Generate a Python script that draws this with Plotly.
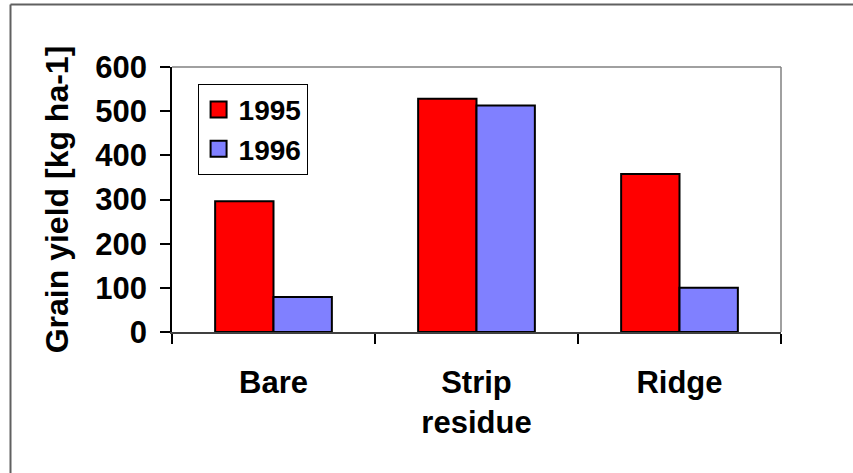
import plotly.graph_objects as go

categories = ["Bare", "Strip<br>residue", "Ridge"]
yield_1995 = [296, 528, 358]
yield_1996 = [79, 513, 100]
series_names = ["1995", "1996"]
series_colors = ["#FF0000", "#8080FF"]
y_ticks = [0, 100, 200, 300, 400, 500, 600]

FONT = "Liberation Sans, Arial, sans-serif"

fig = go.Figure()
for name, vals, col in zip(series_names, [yield_1995, yield_1996], series_colors):
    fig.add_trace(go.Bar(x=categories, y=vals, name=name, legendgroup=name,
                         showlegend=False,
                         marker=dict(color=col, line=dict(color="black", width=2))))
# legend entries with larger square swatches
for name, col in zip(series_names, series_colors):
    fig.add_trace(go.Scatter(x=[None], y=[None], mode="markers", name=name,
                             legendgroup=name, showlegend=True,
                             marker=dict(symbol="square", size=16, color=col,
                                         line=dict(color="black", width=2))))

W, H = 853, 473
L, R, T, B = 172, 72, 67, 141

fig.update_layout(
    width=W, height=H,
    margin=dict(l=L, r=R, t=T, b=B, autoexpand=False),
    paper_bgcolor="white", plot_bgcolor="white",
    barmode="group", bargap=0.425, bargroupgap=0,
    font=dict(family=FONT, color="black", size=31, weight="bold"),
    legend=dict(x=0.042, y=0.937, xanchor="left", yanchor="top",
                bordercolor="black", borderwidth=1, bgcolor="white",
                font=dict(family=FONT, size=28, color="black", weight="bold"),
                traceorder="normal", itemsizing="trace"),
    xaxis=dict(type="category", range=[-0.5, 2.5], tickson="boundaries",
               ticks="outside", ticklen=10, tickwidth=1.5, tickcolor="black",
               showline=True, linecolor="#404040", linewidth=1.5,
               showgrid=False, zeroline=False, ticklabelstandoff=22,
               tickfont=dict(family=FONT, size=31, weight="bold")),
    yaxis=dict(range=[0, 600], tickvals=y_ticks, ticks="outside", ticklen=10,
               tickwidth=1.5, tickcolor="black", showline=True, linecolor="black",
               linewidth=1.5, showgrid=False, zeroline=False, ticklabelstandoff=7,
               tickfont=dict(family=FONT, size=31, weight="bold"),
               title=dict(text="Grain yield [kg ha-1]", standoff=17,
                          font=dict(family=FONT, size=32, weight="bold"))),
    xaxis2=dict(overlaying="x", anchor="y", range=[-0.5, 2.5],
                tickvals=[-0.5, 0.5, 1.5, 2.5], ticks="inside", ticklen=10,
                tickwidth=1.5, tickcolor="black", showticklabels=False,
                showgrid=False, zeroline=False, showline=False),
    yaxis2=dict(overlaying="y", anchor="x", range=[0, 600], tickvals=y_ticks,
                ticks="inside", ticklen=8, tickwidth=1.5, tickcolor="black",
                showticklabels=False, showgrid=False, zeroline=False, showline=False),
    shapes=[
        dict(type="line", xref="paper", yref="paper", x0=0, x1=1, y0=1, y1=1,
             line=dict(color="#808080", width=1.5)),
        dict(type="line", xref="paper", yref="paper", x0=1, x1=1, y0=0, y1=1,
             line=dict(color="#808080", width=1.5)),
        dict(type="line", xref="paper", yref="paper",
             x0=(10.5 - L) / (W - L - R), x1=1.3,
             y0=(H - B - 4.5) / (H - T - B), y1=(H - B - 4.5) / (H - T - B),
             line=dict(color="#606060", width=2)),
        dict(type="line", xref="paper", yref="paper",
             x0=(10.5 - L) / (W - L - R), x1=(10.5 - L) / (W - L - R),
             y0=-0.7, y1=(H - B - 4.5) / (H - T - B),
             line=dict(color="#606060", width=2)),
    ],
)

fig.write_html("out.html")
